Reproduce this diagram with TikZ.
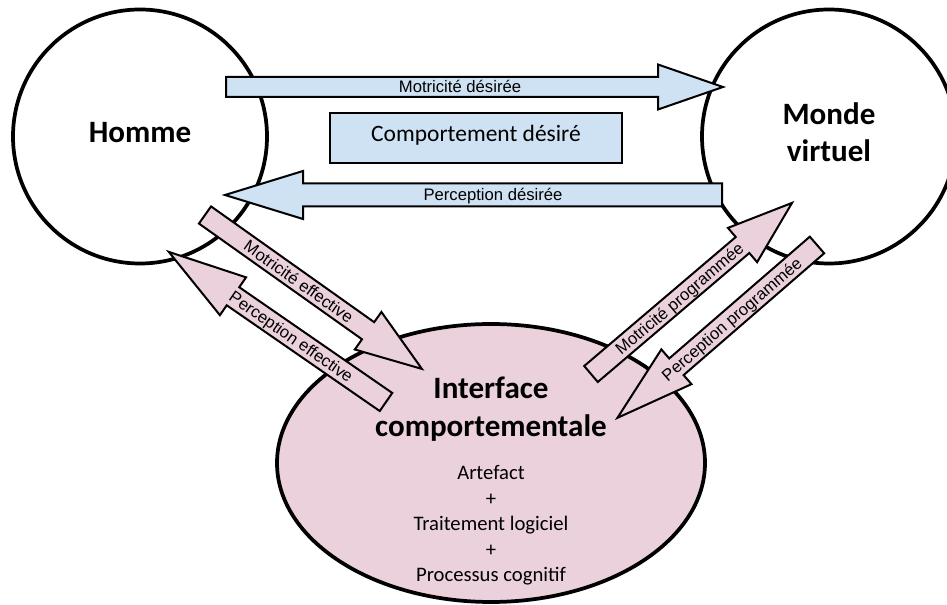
\documentclass[tikz,border=0pt]{standalone}
\usepackage{fontspec}
\setmainfont{Carlito}
\newfontfamily\arialf{Liberation Sans}
\usetikzlibrary{shapes.geometric}
\definecolor{lblue}{HTML}{CFE2F3}
\definecolor{lpink}{HTML}{EAD1DC}
\begin{document}
\begin{tikzpicture}[x=0.75pt,y=-0.75pt,
  bigline/.style={draw=black, line width=2.8pt},
  bluearrow/.style={draw=black, fill=lblue, line width=1.5pt},
  pinkarrow/.style={draw=black, fill=lpink, line width=1.5pt},
  lbl/.style={font=\arialf\fontsize{12.5}{15}\selectfont, inner sep=0pt, text height=8.95pt, text depth=0pt},
  bigtxt/.style={font=\bfseries\fontsize{23.3}{28}\selectfont, inner sep=0pt, anchor=base},
  bodytxt/.style={font=\fontsize{15.5}{19}\selectfont, inner sep=0pt, anchor=base},
  boxtxt/.style={font=\fontsize{17.6}{21}\selectfont, inner sep=0pt, anchor=base}]
\useasboundingbox (0,0) rectangle (947,605);
\fill[white] (0,0) rectangle (947,605);

% circles and ellipse
\node[circle, bigline, fill=white, minimum size=190.5pt, inner sep=0pt] (homme) at (140,136.5) {};
\node[circle, bigline, fill=white, minimum size=190.5pt, inner sep=0pt] (monde) at (829,136.5) {};
\node[ellipse, bigline, fill=lpink, minimum width=321pt, minimum height=208.5pt, inner sep=0pt] (interface) at (491,463) {};

% A1 Motricite desiree
\begin{scope}[shift={(226,87)}]
  \draw[bluearrow] (0,-10) -- (432,-10) -- (432,-22.5) -- (497,0) -- (432,22.5) -- (432,10) -- (0,10) -- cycle;
  \coordinate (a1tip) at (497,0);
  \node[lbl] (l1) at (234,0) {Motricité désirée};
\end{scope}
% A2 Perception desiree
\begin{scope}[shift={(722,195)}, rotate=180]
  \draw[bluearrow] (0,-11.5) -- (419,-11.5) -- (419,-24) -- (497,0) -- (419,24) -- (419,11.5) -- (0,11.5) -- cycle;
  \coordinate (a2tip) at (497,0);
  \node[lbl] (l2) at (229,0) {Perception désirée};
\end{scope}
% A3 Motricite effective
\begin{scope}[shift={(205,215)}, rotate=-35.36]
  \draw[pinkarrow] (0,-10.5) -- (200,-10.5) -- (200,-23) -- (266,0) -- (200,23) -- (200,10.5) -- (0,10.5) -- cycle;
  \coordinate (a3tip) at (266,0);
  \node[lbl, rotate=-35.36] (l3) at (115,0) {Motricité effective};
\end{scope}
% A4 Perception effective
\begin{scope}[shift={(386,402)}, rotate=145.35]
  \draw[pinkarrow] (0,-11) -- (186,-11) -- (186,-23) -- (264,0) -- (186,23) -- (186,11) -- (0,11) -- cycle;
  \coordinate (a4tip) at (264,0);
  \node[lbl, rotate=-34.65] (l4) at (115,0) {Perception effective};
\end{scope}
% A5 Motricite programmee
\begin{scope}[shift={(591,374)}, rotate=40.4]
  \draw[pinkarrow] (0,-10.5) -- (199,-10.5) -- (199,-22.5) -- (264,0) -- (199,22.5) -- (199,10.5) -- (0,10.5) -- cycle;
  \coordinate (a5tip) at (264,0);
  \node[lbl, rotate=40.4] (l5) at (116,0) {Motricité programmée};
\end{scope}
% A6 Perception programmee
\begin{scope}[shift={(817,245)}, rotate=-139.1]
  \draw[pinkarrow] (0,-11) -- (186,-11) -- (186,-23) -- (264,0) -- (186,23) -- (186,11) -- (0,11) -- cycle;
  \coordinate (a6tip) at (264,0);
  \node[lbl, rotate=40.9] (l6) at (113,0) {Perception programmée};
\end{scope}

% central box
\node[draw=black, fill=lblue, line width=1.5pt, minimum width=219pt, minimum height=37.5pt, inner sep=0pt] (comp) at (476,138) {};
\node[boxtxt] (comptxt) at (476,142) {Comportement désiré};

% texts
\node[bigtxt] (hommetxt) at (140,143) {Homme};
\node[bigtxt] (mondetxt) at (829,125) {Monde};
\node[bigtxt] (virtueltxt) at (829,162) {virtuel};
\node[bigtxt] (itf1) at (491,399) {Interface};
\node[bigtxt] (itf2) at (491,437) {comportementale};
\node[bodytxt] (b1) at (491,480) {Artefact};
\node[bodytxt] (b2) at (491,505.5) {+};
\node[bodytxt] (b3) at (491,531) {Traitement logiciel};
\node[bodytxt] (b4) at (491,556.5) {+};
\node[bodytxt] (b5) at (491,582) {Processus cognitif};
\end{tikzpicture}
\end{document}
